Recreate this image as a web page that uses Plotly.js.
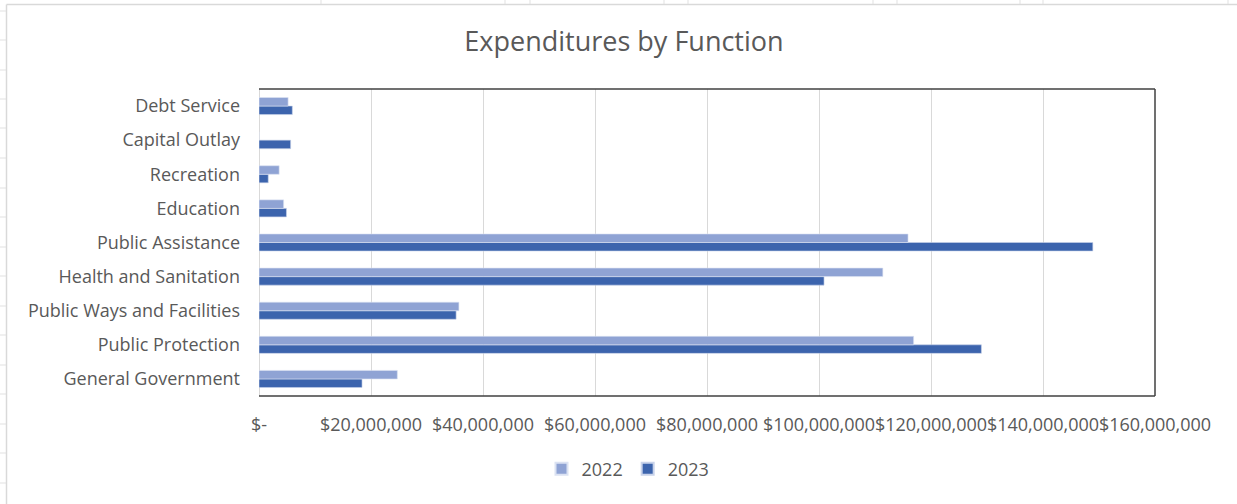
<!DOCTYPE html>
<html>
<head>
<meta charset="utf-8">
<script src="https://cdn.plot.ly/plotly-3.0.1.min.js"></script>
<style>
  html, body { margin: 0; padding: 0; background: #ffffff; }
  #chart { width: 1237px; height: 504px; }
</style>
</head>
<body>
<div id="chart"></div>
<script>
// Categories (bottom to top, as drawn)
const categories = [
  "General Government",
  "Public Protection",
  "Public Ways and Facilities",
  "Health and Sanitation",
  "Public Assistance",
  "Education",
  "Recreation",
  "Capital Outlay",
  "Debt Service"
];
// Series values (USD)
const values2022 = [24700000, 116900000, 35700000, 111400000, 115900000, 4400000, 3600000, 0, 5200000];
const values2023 = [18400000, 129000000, 35200000, 100900000, 148900000, 4900000, 1650000, 5650000, 5950000];
// Tick values and labels
const tickValues = [0, 20000000, 40000000, 60000000, 80000000, 100000000, 120000000, 140000000, 160000000];
const tickLabels = ["$-", "$20,000,000", "$40,000,000", "$60,000,000", "$80,000,000", "$100,000,000", "$120,000,000", "$140,000,000", "$160,000,000"];

const W = 1237, H = 504;
const M = { l: 259, r: W - 1155, t: 89, b: H - 396 };
const pw = W - M.l - M.r, ph = H - M.t - M.b;
const px = x => (x - M.l) / pw;
const py = y => (H - M.b - y) / ph;

const fontFam = "'Open Sans', 'Noto Sans', sans-serif";
const textCol = "#595959";

const traces = [
  {
    type: "bar", orientation: "h", name: "2023",
    y: categories, x: values2023,
    marker: { color: "#3c64ad", line: { color: "#c9d3ea", width: 0.6 } },
    hoverinfo: "x+y+name"
  },
  {
    type: "bar", orientation: "h", name: "2022",
    y: categories, x: values2022,
    marker: { color: "#8fa3d4", line: { color: "#dbe2f2", width: 0.6 } },
    hoverinfo: "x+y+name"
  }
];

// spreadsheet decoration (row/column lines outside chart border)
const shapes = [];
const gridCol = "#e1e1e1";
const rowYs = [11, 40, 70, 99, 128, 158, 188, 217, 247, 276, 306, 335, 365, 394, 424, 453, 483];
rowYs.forEach(y => shapes.push({ type: "line", xref: "paper", yref: "paper",
  x0: px(0), x1: px(6), y0: py(y), y1: py(y), line: { color: gridCol, width: 1 } }));
const colXs = [321, 505, 530, 664, 688, 873, 897, 1020, 1043, 1228];
colXs.forEach(x => shapes.push({ type: "line", xref: "paper", yref: "paper",
  x0: px(x), x1: px(x), y0: py(0), y1: py(4), line: { color: gridCol, width: 1 } }));
// chart area border
shapes.push({ type: "line", xref: "paper", yref: "paper", x0: px(6.5), x1: px(1240), y0: py(4.5), y1: py(4.5), line: { color: "#d9d9d9", width: 1.5 } });
shapes.push({ type: "line", xref: "paper", yref: "paper", x0: px(6.5), x1: px(6.5), y0: py(4.5), y1: py(510), line: { color: "#d9d9d9", width: 1.5 } });
// plot area border (top, right, bottom dark)
const dark = "#404040";
shapes.push({ type: "line", xref: "paper", yref: "paper", x0: 0, x1: 1, y0: 1, y1: 1, line: { color: dark, width: 1.5 } });
shapes.push({ type: "line", xref: "paper", yref: "paper", x0: 1, x1: 1, y0: 0, y1: 1, line: { color: dark, width: 1.5 } });
shapes.push({ type: "line", xref: "paper", yref: "paper", x0: 0, x1: 1, y0: 0, y1: 0, line: { color: dark, width: 1.5 } });

const layout = {
  width: W, height: H,
  margin: M,
  paper_bgcolor: "#ffffff",
  plot_bgcolor: "#ffffff",
  font: { family: fontFam, color: textCol, size: 18 },
  title: {
    text: "Expenditures by Function",
    font: { family: fontFam, size: 27, color: textCol },
    x: 624 / W, xref: "container", xanchor: "center",
    y: 1 - 42 / H, yref: "container", yanchor: "middle"
  },
  barmode: "group",
  bargap: 0.5,
  bargroupgap: 0,
  showlegend: true,
  legend: {
    orientation: "h", traceorder: "reversed",
    x: px(628), xanchor: "center", y: py(469), yanchor: "middle",
    font: { family: fontFam, size: 18, color: textCol },
    itemwidth: 30, itemsizing: "constant"
  },
  xaxis: {
    range: [0, 160000000],
    tickmode: "array", tickvals: tickValues, ticktext: tickLabels,
    tickangle: 0,
    showgrid: true, gridcolor: "#d9d9d9", gridwidth: 1,
    zeroline: true, zerolinecolor: "#d9d9d9", zerolinewidth: 1,
    showline: false, ticks: "",
    tickfont: { family: fontFam, size: 18, color: textCol },
    ticklabelstandoff: 16,
    fixedrange: true
  },
  yaxis: {
    type: "category",
    categoryorder: "array", categoryarray: categories,
    showgrid: false, zeroline: false, showline: false, ticks: "",
    tickfont: { family: fontFam, size: 18, color: textCol },
    ticklabelstandoff: 18,
    fixedrange: true
  },
  shapes: shapes
};

Plotly.newPlot("chart", traces, layout, { displayModeBar: false, staticPlot: true });
</script>
</body>
</html>
